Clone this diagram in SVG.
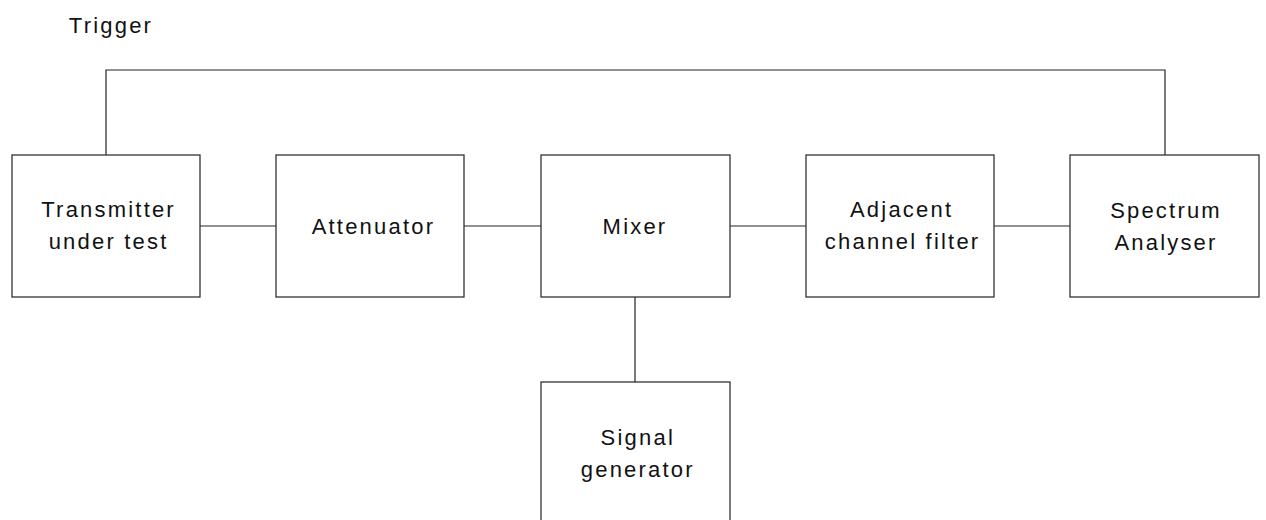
<svg xmlns="http://www.w3.org/2000/svg" width="1266" height="520" viewBox="0 0 1266 520">
<style>
.box{fill:#fff;stroke:#333;stroke-width:1.3}
.ln{fill:none;stroke:#222;stroke-width:1.2}
text{font-family:"Liberation Sans",Arial,sans-serif;font-size:22px;letter-spacing:2.2px;fill:#111;text-anchor:middle}
</style>
<rect width="1266" height="520" fill="#fff"/>
<text id="trigger" x="111" y="33">Trigger</text>
<g id="connectors">
<polyline class="ln" points="106,155 106,70 1165,70 1165,155"/>
<line class="ln" x1="200" y1="226" x2="276" y2="226"/>
<line class="ln" x1="464" y1="226" x2="541" y2="226"/>
<line class="ln" x1="730" y1="226" x2="806" y2="226"/>
<line class="ln" x1="994" y1="226" x2="1070" y2="226"/>
<line class="ln" x1="635" y1="297" x2="635" y2="382"/>
</g>
<g id="transmitter">
<rect class="box" x="12" y="155" width="188" height="142"/>
<text x="108.6" y="217">Transmitter</text>
<text x="108.6" y="249">under test</text>
</g>
<g id="attenuator">
<rect class="box" x="276" y="155" width="188" height="142"/>
<text x="373.4" y="234">Attenuator</text>
</g>
<g id="mixer">
<rect class="box" x="541" y="155" width="189" height="142"/>
<text x="635" y="234">Mixer</text>
</g>
<g id="filter">
<rect class="box" x="806" y="155" width="188" height="142"/>
<text x="901.6" y="217">Adjacent</text>
<text x="902.6" y="249">channel filter</text>
</g>
<g id="analyser">
<rect class="box" x="1070" y="155" width="189" height="142"/>
<text x="1166" y="218">Spectrum</text>
<text x="1166" y="250">Analyser</text>
</g>
<g id="siggen">
<rect class="box" x="541" y="382" width="189" height="142"/>
<text x="637.8" y="445">Signal</text>
<text x="637.8" y="477">generator</text>
</g>
</svg>
